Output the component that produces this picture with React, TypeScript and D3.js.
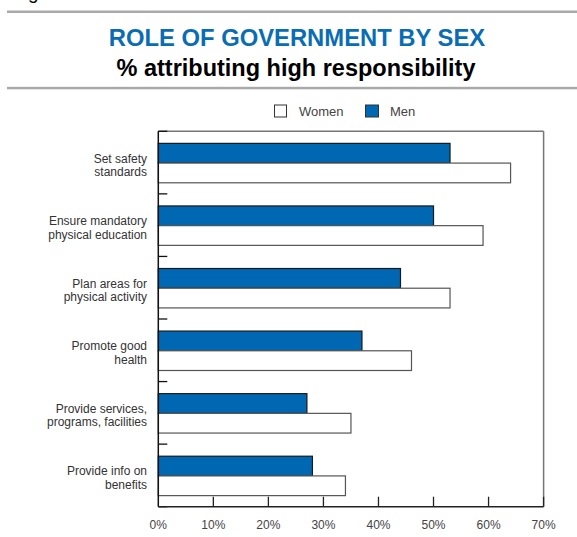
import React from "react";
import * as d3 from "d3";

const categories = [
  ["Set safety", "standards"],
  ["Ensure mandatory", "physical education"],
  ["Plan areas for", "physical activity"],
  ["Promote good", "health"],
  ["Provide services,", "programs, facilities"],
  ["Provide info on", "benefits"],
];
const menValues = [53, 50, 44, 37, 27, 28];
const womenValues = [64, 59, 53, 46, 35, 34];
const xTicks = [0, 10, 20, 30, 40, 50, 60, 70];
const seriesNames = ["Men", "Women"];

const W = 577;
const H = 537;
const FONT = "'Liberation Sans', Arial, Helvetica, sans-serif";
const BLUE = "#0068b2";

export default function App() {
  const left = 158.3;
  const right = 543.6;
  const top = 131.3;
  const bottom = 506.7;
  const x = d3.scaleLinear().domain([0, 70]).range([left, right]);
  const keys = categories.map((_, i) => String(i));
  const y = d3.scaleBand<string>().domain(keys).range([top, bottom]).padding(0);
  const bw = y.bandwidth();
  const inner = d3
    .scaleBand<string>()
    .domain(seriesNames)
    .range([bw * 0.193, bw * 0.823])
    .padding(0);

  const boundaries = d3.range(categories.length + 1).map((i) => top + i * bw);

  return (
    <svg
      width={W}
      height={H}
      style={{ position: "absolute", left: 0, top: 0, background: "#fff" }}
      fontFamily={FONT}
    >
      <text x={28} y={-1.5} fontSize={19} fill="#000">g</text>
      <rect x={7} y={10.5} width={W - 7} height={2.5} fill="#a9a9a9" />
      <rect x={7} y={86.8} width={W - 7} height={2.5} fill="#a9a9a9" />
      <text x={297} y={46} textAnchor="middle" fontSize={23.8} fontWeight="bold" fill="#0a6db4">
        ROLE OF GOVERNMENT BY SEX
      </text>
      <text x={296} y={76} textAnchor="middle" fontSize={23.5} fontWeight="bold" fill="#000">
        % attributing high responsibility
      </text>

      {/* legend */}
      <rect x={274.5} y={105} width={12} height={12} fill="#fff" stroke="#333" strokeWidth={1} />
      <text x={299} y={116} fontSize={13} fill="#444">Women</text>
      <rect x={365.5} y={105} width={13} height={12} fill={BLUE} stroke="#333" strokeWidth={1} />
      <text x={390} y={116} fontSize={13} fill="#444">Men</text>

      {/* frame */}
      <line x1={left} x2={right} y1={top} y2={top} stroke="#777" strokeWidth={1.5} />
      <line x1={right} x2={right} y1={top} y2={bottom} stroke="#777" strokeWidth={1.5} />

      {/* bars */}
      {categories.map((_, i) => {
        const by = y(String(i))!;
        return (
          <g key={i}>
            <rect
              x={x(0)}
              y={by + inner("Men")!}
              width={x(menValues[i]) - x(0)}
              height={inner.bandwidth()}
              fill={BLUE}
              stroke="#1a1a1a"
              strokeWidth={1.2}
            />
            <rect
              x={x(0)}
              y={by + inner("Women")!}
              width={x(womenValues[i]) - x(0)}
              height={inner.bandwidth()}
              fill="#fff"
              stroke="#555"
              strokeWidth={1.2}
            />
          </g>
        );
      })}

      {/* category labels */}
      {categories.map((lines, i) => {
        const cy = y(String(i))! + bw / 2;
        return (
          <text key={i} textAnchor="end" fontSize={12} fill="#333">
            <tspan x={147} y={cy}>{lines[0]}</tspan>
            <tspan x={147} y={cy + 13.5}>{lines[1]}</tspan>
          </text>
        );
      })}

      {/* left axis and ticks */}
      <line x1={left} x2={left} y1={top} y2={bottom} stroke="#111" strokeWidth={1.5} />
      {boundaries.map((b, i) => (
        <line key={i} x1={left} x2={left + 9} y1={b} y2={b} stroke="#111" strokeWidth={1.3} />
      ))}

      {/* bottom axis */}
      <line x1={left} x2={right} y1={bottom} y2={bottom} stroke="#222" strokeWidth={1.5} />
      {xTicks.map((t) => (
        <g key={t}>
          {t > 0 && (
            <line x1={x(t)} x2={x(t)} y1={bottom - 10} y2={bottom} stroke="#222" strokeWidth={1.3} />
          )}
          <text x={x(t)} y={529} textAnchor="middle" fontSize={12} fill="#444">
            {t}%
          </text>
        </g>
      ))}
    </svg>
  );
}
